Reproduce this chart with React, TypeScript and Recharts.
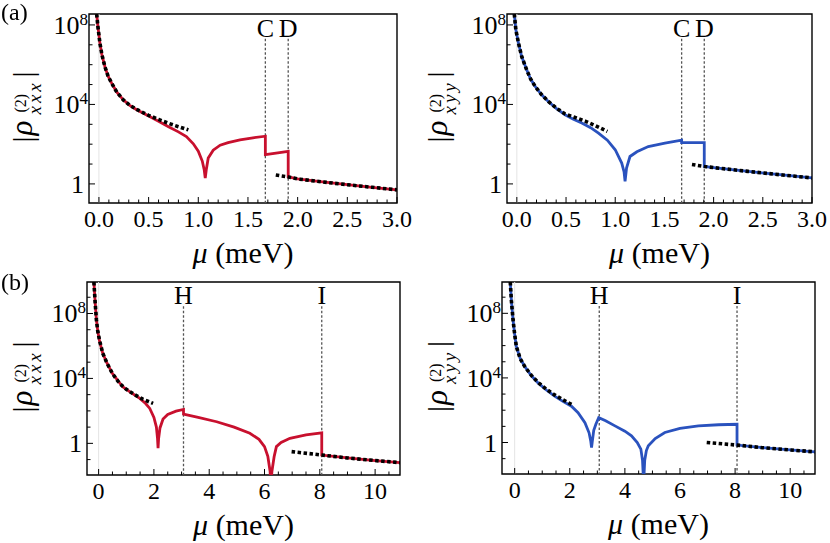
import React from "react";
import { LineChart, Line, XAxis, YAxis, ReferenceLine, ReferenceArea } from "recharts";

const FONT = "Liberation Serif, Times New Roman, Times, DejaVu Serif, serif";
const RED = "#c8102e";
const BLUE = "#2a52be";

type Pt = [number, number];

// values are log10 |rho|, x is mu in meV
// (a) left, xxx
const xxxA: Pt[] = [
  [-0.03, 9.0], [-0.023, 8.55], [-0.01, 7.9], [0.01, 7.08], [0.03, 6.5], [0.06, 5.9],
  [0.09, 5.45], [0.128, 5.07], [0.18, 4.62], [0.245, 4.23], [0.31, 3.95], [0.38, 3.73],
  [0.51, 3.39], [0.6, 3.15], [0.7, 2.88], [0.8, 2.62], [0.88, 2.38], [0.95, 2.02],
  [1.0, 1.65], [1.04, 1.15], [1.06, 0.7], [1.07, 0.3], [1.08, 0.7], [1.1, 1.3],
  [1.15, 1.7], [1.22, 1.95], [1.3, 2.08], [1.42, 2.22], [1.55, 2.32], [1.675, 2.4],
  [1.675, 1.47], [1.8, 1.56], [1.905, 1.64], [1.905, 0.35], [2.0, 0.25], [2.25, 0.1],
  [2.5, -0.04], [2.75, -0.17], [3.0, -0.3],
];
const xxxAUpper: Pt[] = [
  [-0.023, 8.55], [-0.01, 7.9], [0.01, 7.08], [0.03, 6.5], [0.06, 5.9], [0.09, 5.45],
  [0.128, 5.07], [0.18, 4.62], [0.245, 4.23], [0.31, 3.96], [0.38, 3.75], [0.5, 3.45],
  [0.6, 3.25], [0.7, 3.05], [0.8, 2.88], [0.9, 2.72],
];
const xxxALower: Pt[] = [
  [1.78, 0.45], [1.905, 0.35], [2.0, 0.25], [2.25, 0.1], [2.5, -0.04], [2.75, -0.17], [3.0, -0.3],
];

// (a) right, xyy
const xyyA: Pt[] = [
  [-0.035, 9.0], [-0.026, 8.55], [-0.01, 7.75], [0.017, 7.08], [0.05, 6.4], [0.1, 5.74],
  [0.14, 5.28], [0.187, 4.9], [0.25, 4.5], [0.32, 4.15], [0.4, 3.8], [0.49, 3.48],
  [0.57, 3.27], [0.66, 3.06], [0.75, 2.83], [0.83, 2.56], [0.92, 2.2], [1.0, 1.72],
  [1.066, 1.05], [1.09, 0.6], [1.1, 0.13], [1.115, 0.8], [1.15, 1.38], [1.22, 1.62],
  [1.336, 1.88], [1.505, 2.05], [1.675, 2.2], [1.675, 2.08], [1.905, 2.08], [1.905, 0.88],
  [2.0, 0.82], [2.35, 0.63], [2.7, 0.45], [3.0, 0.3],
];
const xyyAUpper: Pt[] = [
  [-0.026, 8.55], [-0.01, 7.75], [0.017, 7.08], [0.05, 6.4], [0.1, 5.74], [0.14, 5.28],
  [0.187, 4.9], [0.25, 4.5], [0.32, 4.15], [0.4, 3.82], [0.49, 3.52], [0.6, 3.33],
  [0.7, 3.15], [0.8, 2.93], [0.92, 2.64],
];
const xyyALower: Pt[] = [
  [1.78, 0.98], [1.905, 0.88], [2.0, 0.82], [2.35, 0.63], [2.7, 0.45], [3.0, 0.3],
];

// (b) left, xxx
const xxxB: Pt[] = [
  [-0.19, 10.3], [-0.17, 9.94], [-0.13, 8.8], [-0.08, 7.6], [-0.03, 6.9], [0.04, 6.25],
  [0.15, 5.55], [0.3, 4.95], [0.5, 4.3], [0.76, 3.72], [0.88, 3.48], [1.2, 3.1],
  [1.49, 2.77], [1.7, 2.45], [1.85, 2.15], [2.0, 1.6], [2.09, 1.0], [2.13, 0.3],
  [2.15, -0.3], [2.17, 0.3], [2.22, 0.95], [2.33, 1.5], [2.5, 1.78], [2.8, 1.98],
  [3.07, 2.09], [3.07, 1.8], [3.6, 1.6], [4.27, 1.33], [4.9, 1.0], [5.47, 0.62],
  [5.8, 0.25], [6.0, -0.2], [6.12, -0.8], [6.2, -1.7], [6.23, -2.5], [6.27, -1.7],
  [6.35, -0.8], [6.43, -0.2], [6.6, 0.05], [6.92, 0.31], [7.5, 0.52], [8.07, 0.65],
  [8.07, -0.72], [9.0, -0.9], [10.0, -1.06], [10.9, -1.19],
];
const xxxBUpper: Pt[] = [
  [-0.17, 9.94], [-0.13, 8.8], [-0.08, 7.6], [-0.03, 6.9], [0.04, 6.3], [0.15, 5.55],
  [0.3, 4.95], [0.5, 4.3], [0.76, 3.69], [1.0, 3.33], [1.3, 3.0], [1.6, 2.72], [1.97, 2.46],
];
const xxxBLower: Pt[] = [
  [6.98, -0.51], [8.07, -0.72], [9.0, -0.9], [10.0, -1.06], [10.9, -1.19],
];

// (b) right, xyy
const xyyB: Pt[] = [
  [-0.18, 10.3], [-0.16, 9.94], [-0.12, 8.8], [-0.06, 7.6], [0.0, 6.7], [0.06, 5.95],
  [0.2, 5.2], [0.36, 4.72], [0.6, 4.15], [0.85, 3.69], [1.15, 3.25], [1.45, 2.87],
  [1.75, 2.55], [2.06, 2.25], [2.3, 1.85], [2.55, 1.23], [2.7, 0.6], [2.76, 0.1],
  [2.79, -0.31], [2.82, 0.1], [2.87, 0.75], [2.95, 1.15], [3.05, 1.54], [3.3, 1.35],
  [3.64, 1.03], [4.0, 0.7], [4.24, 0.41], [4.45, 0.0], [4.58, -0.41], [4.64, -1.1],
  [4.68, -2.5], [4.72, -1.1], [4.78, -0.5], [4.85, -0.2], [5.1, 0.25], [5.45, 0.62],
  [6.0, 0.87], [6.67, 1.03], [7.4, 1.1], [8.07, 1.13], [8.07, -0.16], [9.0, -0.32],
  [10.0, -0.46], [10.9, -0.58],
];
const xyyBUpper: Pt[] = [
  [-0.16, 9.94], [-0.12, 8.8], [-0.06, 7.6], [0.0, 6.7], [0.06, 5.95], [0.2, 5.2],
  [0.36, 4.72], [0.6, 4.17], [0.85, 3.72], [1.15, 3.3], [1.45, 2.95], [1.75, 2.65], [2.06, 2.36],
];
const xyyBLower: Pt[] = [
  [6.97, 0.0], [8.07, -0.16], [9.0, -0.32], [10.0, -0.46], [10.9, -0.58],
];

const marksA = [{ x: 1.675, name: "C" }, { x: 1.905, name: "D" }];
const marksB = [{ x: 3.07, name: "H" }, { x: 8.07, name: "I" }];

const xMajorA = [0, 0.5, 1, 1.5, 2, 2.5, 3];
const xLabelA = ["0.0", "0.5", "1.0", "1.5", "2.0", "2.5", "3.0"];
const xMajorB = [0, 2, 4, 6, 8, 10];
const xLabelB = ["0", "2", "4", "6", "8", "10"];
const yExp = [0, 4, 8];

const xTicksA = Array.from({ length: 31 }, (_, i) => i / 10);
const xTicksB = Array.from({ length: 22 }, (_, i) => i / 2);
const yTicksA = [0, 1, 2, 3, 4, 5, 6, 7, 8];
const yTicksB = [-1, 0, 1, 2, 3, 4, 5, 6, 7, 8, 9];

const rows = (pts: Pt[]) => pts.map(([x, y]) => ({ x, y }));
const txt = { fontFamily: FONT };

function XTick(props: any) {
  const { x, y, payload, majors, labels } = props;
  const i = majors.findIndex((m: number) => Math.abs(m - payload.value) < 1e-6);
  return (
    <g>
      <line x1={x} x2={x} y1={y} y2={y - (i >= 0 ? 6 : 3.5)} stroke="#000" strokeWidth={1} />
      {i >= 0 && (
        <text x={x} y={y + 24} textAnchor="middle" fontSize={24} style={txt} fill="#000">
          {labels[i]}
        </text>
      )}
    </g>
  );
}

function YTick(props: any) {
  const { x, y, payload } = props;
  const v = payload.value;
  const major = yExp.includes(v);
  return (
    <g>
      <line x1={x} x2={x + (major ? 6 : 3.5)} y1={y} y2={y} stroke="#000" strokeWidth={1} />
      {major && v === 0 && (
        <text x={x - 5} y={y + 9} textAnchor="end" fontSize={26} style={txt} fill="#000">
          1
        </text>
      )}
      {major && v !== 0 && (
        <text x={x - 1} y={y + 9} textAnchor="end" fontSize={26} style={txt} fill="#000">
          <tspan>10</tspan>
          <tspan dy={-9} fontSize={17}>{v}</tspan>
        </text>
      )}
    </g>
  );
}

function YTitle({ cx, cy, sub }: { cx: number; cy: number; sub: string }) {
  return (
    <g transform={`translate(${cx},${cy}) rotate(-90)`} style={txt} fill="#000">
      <text x={-36} y={1} fontSize={30}>|</text>
      <text x={-29} y={0} fontSize={31} fontStyle="italic">ρ</text>
      <text x={-6} y={-6} fontSize={16}>(2)</text>
      <text x={-8} y={9} fontSize={19} fontStyle="italic" letterSpacing={3}>{sub}</text>
      <text x={29} y={1} fontSize={30}>|</text>
    </g>
  );
}

interface PanelProps {
  w: number;
  h: number;
  left: number;
  top: number;
  right: number;
  bottom: number;
  xDomain: [number, number];
  yDomain: [number, number];
  xTicks: number[];
  xMajors: number[];
  xLabels: string[];
  yTicks: number[];
  main: Pt[];
  upper: Pt[];
  lower: Pt[];
  color: string;
  marks: { x: number; name: string }[];
  markTop: number;
  sub: string;
}

function Panel(p: PanelProps) {
  const plotW = p.w - p.left - p.right;
  const plotH = p.h - p.top - p.bottom;
  return (
    <LineChart width={p.w} height={p.h} margin={{ top: p.top, right: p.right, bottom: 0, left: 0 }}>
      <XAxis
        type="number"
        dataKey="x"
        domain={p.xDomain}
        allowDataOverflow
        ticks={p.xTicks}
        interval={0}
        height={p.bottom}
        axisLine={false}
        tickLine={false}
        tickSize={0}
        tickMargin={0}
        tick={(t: any) => <XTick {...t} majors={p.xMajors} labels={p.xLabels} />}
        label={() => (
          <text
            x={p.left + plotW / 2}
            y={p.top + plotH + 60}
            textAnchor="middle"
            fontSize={30}
            style={txt}
            fill="#000"
          >
            <tspan fontStyle="italic">μ</tspan>
            <tspan> (meV)</tspan>
          </text>
        )}
      />
      <YAxis
        type="number"
        domain={p.yDomain}
        allowDataOverflow
        ticks={p.yTicks}
        interval={0}
        width={p.left}
        axisLine={false}
        tickLine={false}
        tickSize={0}
        tickMargin={0}
        tick={(t: any) => <YTick {...t} />}
        label={() => <YTitle cx={32} cy={p.top + plotH / 2 - 2} sub={p.sub} />}
      />
      <ReferenceLine x={0} stroke="#e4e4e4" strokeWidth={1} />
      {p.marks.map((m) => (
        <ReferenceLine
          key={m.name}
          segment={[
            { x: m.x, y: p.markTop },
            { x: m.x, y: p.yDomain[0] },
          ]}
          stroke="#555"
          strokeWidth={1.3}
          strokeDasharray="2.5 2"
          label={{
            value: m.name,
            position: "top",
            offset: 2,
            fontSize: 26,
            style: txt,
            fill: "#000",
          }}
        />
      ))}
      <Line
        data={rows(p.main)}
        dataKey="y"
        type="linear"
        stroke={p.color}
        strokeWidth={2.8}
        dot={false}
        isAnimationActive={false}
      />
      <Line
        data={rows(p.upper)}
        dataKey="y"
        type="linear"
        stroke="#000"
        strokeWidth={3.6}
        strokeDasharray="3.5 2.5"
        dot={false}
        isAnimationActive={false}
      />
      <Line
        data={rows(p.lower)}
        dataKey="y"
        type="linear"
        stroke="#000"
        strokeWidth={3.6}
        strokeDasharray="3.5 2.5"
        dot={false}
        isAnimationActive={false}
      />
      <ReferenceArea
        x1={p.xDomain[0]}
        x2={p.xDomain[1]}
        y1={p.yDomain[0]}
        y2={p.yDomain[1]}
        fill="none"
        stroke="#000"
        strokeWidth={1.4}
        ifOverflow="visible"
      />
    </LineChart>
  );
}

const box = (left: number, top: number): React.CSSProperties => ({ position: "absolute", left, top });
const letterStyle = (top: number): React.CSSProperties => ({
  position: "absolute",
  left: 1,
  top,
  fontSize: 24,
  lineHeight: "24px",
  fontFamily: FONT,
  color: "#000",
});

export default function App() {
  return (
    <div
      style={{
        position: "fixed",
        left: 0,
        top: 0,
        width: 830,
        height: 543,
        background: "#fff",
        fontFamily: FONT,
      }}
    >
      <div style={box(0, 0)}>
        <Panel
          w={415} h={270} left={89} top={14} right={18} bottom={67}
          xDomain={[-0.1, 3]} yDomain={[-0.96, 8.55]}
          xTicks={xTicksA} xMajors={xMajorA} xLabels={xLabelA} yTicks={yTicksA}
          main={xxxA} upper={xxxAUpper} lower={xxxALower} color={RED}
          marks={marksA} markTop={7.3} sub="xxx"
        />
      </div>
      <div style={box(415, 0)}>
        <Panel
          w={415} h={270} left={92} top={14} right={18} bottom={67}
          xDomain={[-0.1, 3]} yDomain={[-0.96, 8.55]}
          xTicks={xTicksA} xMajors={xMajorA} xLabels={xLabelA} yTicks={yTicksA}
          main={xyyA} upper={xyyAUpper} lower={xyyALower} color={BLUE}
          marks={marksA} markTop={7.3} sub="xyy"
        />
      </div>
      <div style={box(0, 270)}>
        <Panel
          w={415} h={273} left={87} top={12} right={15} bottom={68}
          xDomain={[-0.42, 10.9]} yDomain={[-1.95, 9.94]}
          xTicks={xTicksB} xMajors={xMajorB} xLabels={xLabelB} yTicks={yTicksB}
          main={xxxB} upper={xxxBUpper} lower={xxxBLower} color={RED}
          marks={marksB} markTop={8.45} sub="xxx"
        />
      </div>
      <div style={box(415, 270)}>
        <Panel
          w={415} h={273} left={87} top={12} right={15} bottom={69}
          xDomain={[-0.46, 10.9]} yDomain={[-1.95, 9.94]}
          xTicks={xTicksB} xMajors={xMajorB} xLabels={xLabelB} yTicks={yTicksB}
          main={xyyB} upper={xyyBUpper} lower={xyyBLower} color={BLUE}
          marks={marksB} markTop={8.45} sub="xyy"
        />
      </div>
      <div style={letterStyle(0)}>(a)</div>
      <div style={letterStyle(270)}>(b)</div>
    </div>
  );
}
